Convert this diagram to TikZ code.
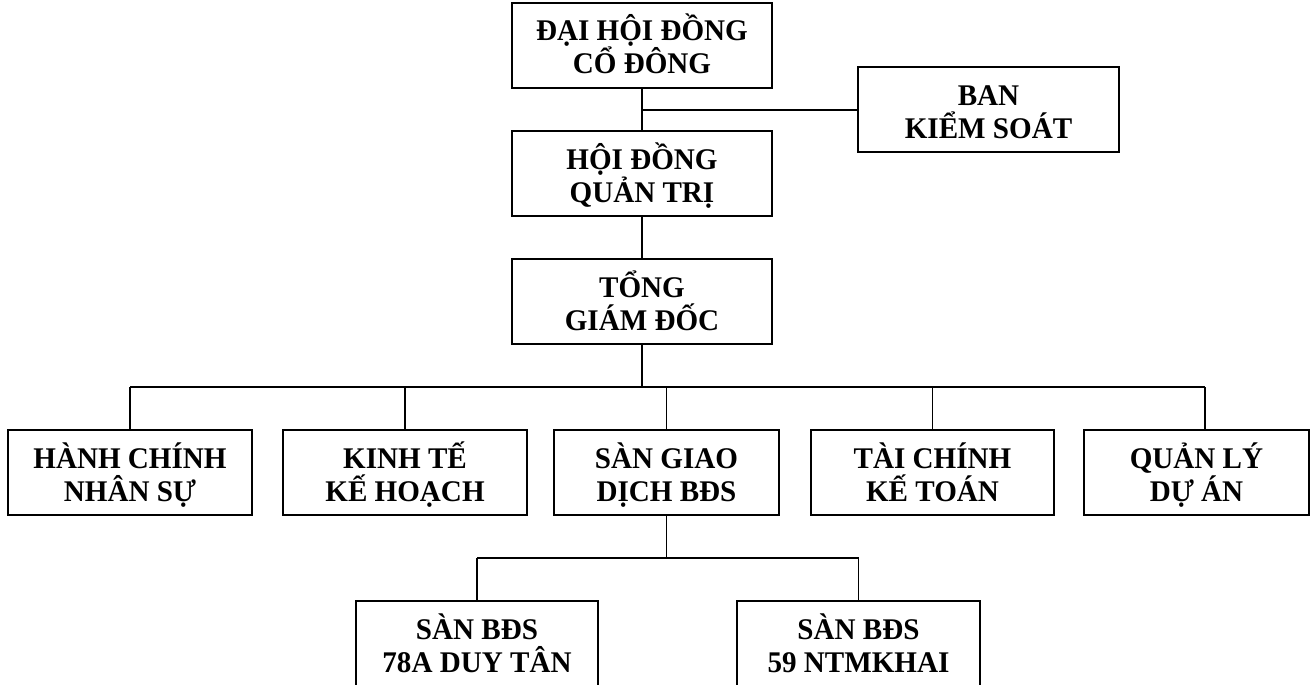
\documentclass[tikz,border=0pt]{standalone}
\usepackage{fontspec}
\setmainfont{Liberation Serif}[FakeStretch=0.97]
\setlength{\lineskiplimit}{-1000pt}
\newcommand\vs{\rule[-6pt]{0pt}{36pt}}
\newcommand\boxfont{\fontsize{30}{33}\selectfont\bfseries\setlength{\lineskiplimit}{-1000pt}}
\tikzset{
  x=1pt, y=1pt,
  box/.style={draw=black, line width=1.5pt, rectangle, inner sep=0pt,
    minimum height=85pt, align=center, font=\boxfont},
  conn/.style={draw=black, line width=1.5pt}
}
\begin{document}
\begin{tikzpicture}
\useasboundingbox (0,0) rectangle (1312,-685);
\clip (0,0) rectangle (1312,-685);
% top chain
\node[box, minimum width=260pt] (dh) at (642,-45.5) {\vs ĐẠI HỘI ĐỒNG\\\vs CỔ ĐÔNG};
\node[box, minimum width=261pt] (bks) at (988.5,-109.5) {\vs BAN\\\vs KIỂM SOÁT};
\node[box, minimum width=260pt] (hd) at (642,-173.5) {\vs HỘI ĐỒNG\\\vs QUẢN TRỊ};
\node[box, minimum width=260pt] (tgd) at (642,-301.5) {\vs TỔNG\\\vs GIÁM ĐỐC};
% departments
\node[box, minimum width=244pt] (b1) at (130,-472.5) {\vs HÀNH CHÍNH\\\vs NHÂN SỰ};
\node[box, minimum width=244pt] (b2) at (405,-472.5) {\vs KINH TẾ\\\vs KẾ HOẠCH};
\node[box, minimum width=225pt] (b3) at (666.5,-472.5) {\vs SÀN GIAO\\\vs DỊCH BĐS};
\node[box, minimum width=243pt] (b4) at (932.5,-472.5) {\vs TÀI CHÍNH\\\vs KẾ TOÁN};
\node[box, minimum width=225pt] (b5) at (1196.5,-472.5) {\vs QUẢN LÝ\\\vs DỰ ÁN};
% sub units
\node[box, minimum width=242pt] (b6) at (477,-643.5) {\vs SÀN BĐS\\\vs 78A DUY TÂN};
\node[box, minimum width=243pt] (b7) at (858.5,-643.5) {\vs SÀN BĐS\\\vs 59 NTMKHAI};
% connectors
\coordinate (j1) at (642,-110);
\coordinate (busy) at (0,-387);
\coordinate (subbusy) at (0,-558);
\coordinate (b5n) at ([xshift=8.5pt]b5.north);
\draw[conn] (dh.south) -- (hd.north);
\draw[conn] (j1) -- (j1 -| bks.west);
\draw[conn] (hd.south) -- (tgd.north);
\draw[conn] (tgd.south) -- (tgd.south |- busy);
\draw[conn] (b1.north |- busy) -- (b5n |- busy);
\draw[conn] (b1.north) -- (b1.north |- busy);
\draw[conn] (b2.north) -- (b2.north |- busy);
\draw[conn] (b3.north) -- (b3.north |- busy);
\draw[conn] (b4.north) -- (b4.north |- busy);
\draw[conn] (b5n) -- (b5n |- busy);
\draw[conn] (b3.south) -- (b3.south |- subbusy);
\draw[conn] (b6.north |- subbusy) -- (b7.north |- subbusy);
\draw[conn] (b6.north) -- (b6.north |- subbusy);
\draw[conn] (b7.north) -- (b7.north |- subbusy);
\end{tikzpicture}
\end{document}
